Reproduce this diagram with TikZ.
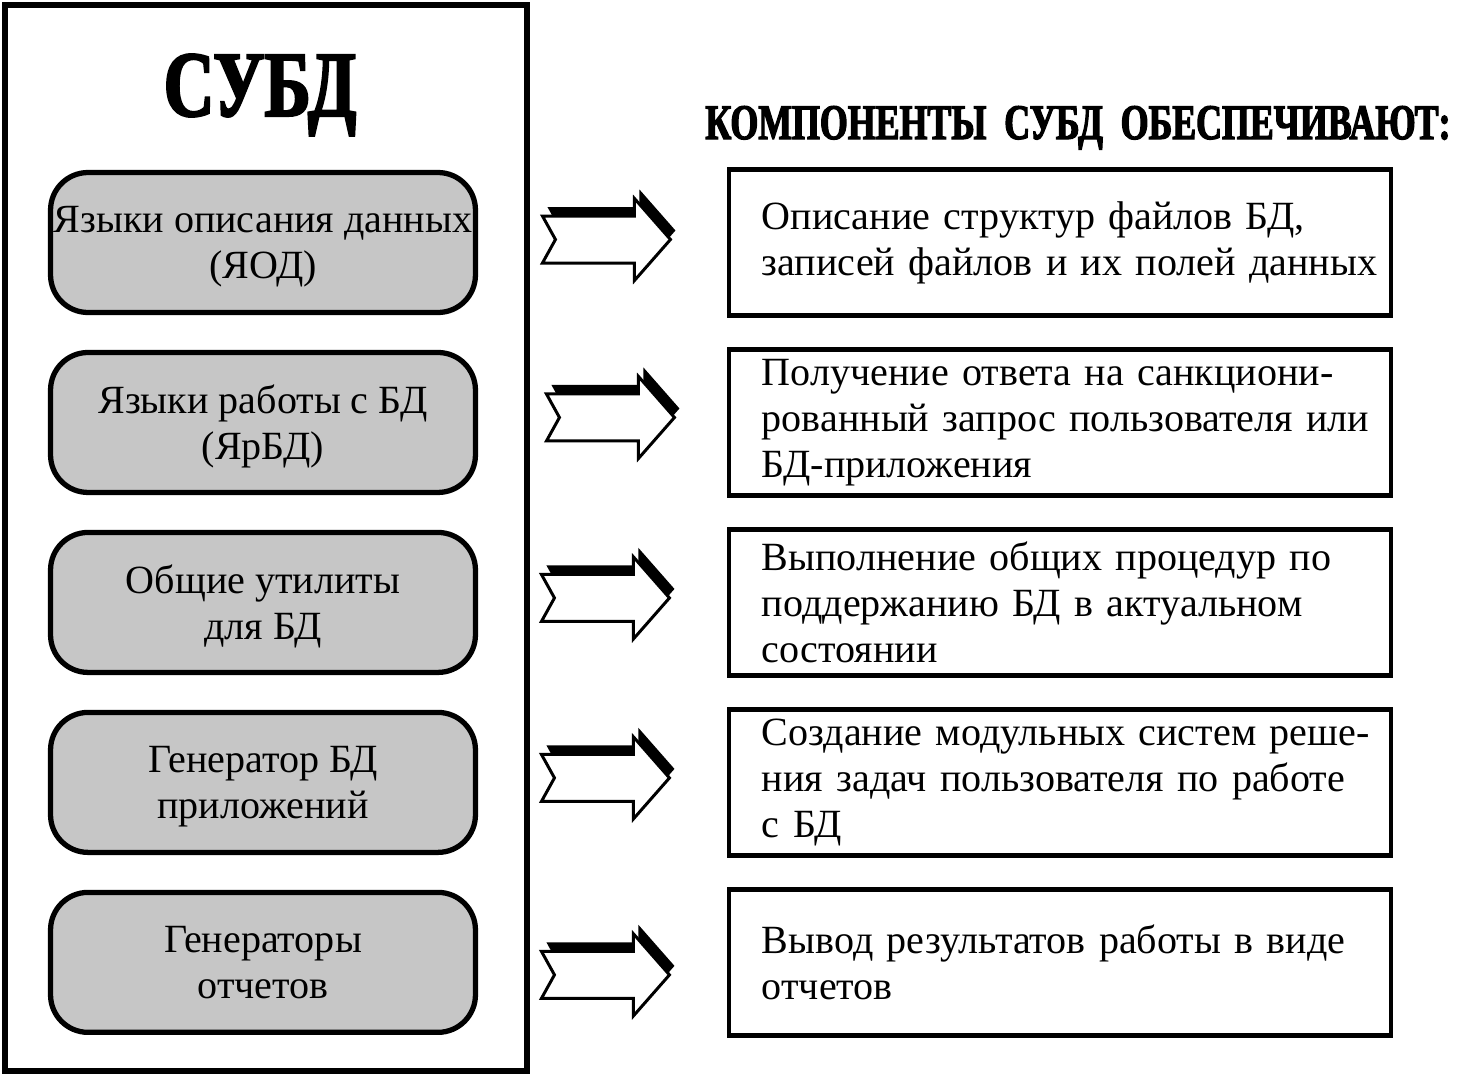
\documentclass[tikz,border=0pt]{standalone}
\usepackage{fontspec}
\setmainfont{Liberation Serif}
\newfontfamily\headfont{Liberation Serif Bold}[FakeStretch=0.75, FakeBold=2.5]
\newfontfamily\headerfont{Liberation Serif Bold}[FakeStretch=0.72, FakeBold=2.5]
\usetikzlibrary{positioning}

\definecolor{boxgray}{HTML}{C6C6C6}
\newcommand{\taskline}[1]{\mbox{#1}}

\begin{document}
\begin{tikzpicture}[
    x=0.02cm, y=-0.02cm,
    every node/.style={font=\fontsize{22.8}{26.2}\selectfont},
    compnode/.style={
        rectangle,
        rounded corners=0.75cm,
        draw=black,
        line width=3pt,
        fill=boxgray,
        minimum width=8.5cm,
        minimum height=2.8cm,
        align=center,
        text depth=0pt,
        inner sep=0pt,
        outer sep=0pt
    },
    tasknode/.style={
        rectangle,
        draw=black,
        line width=2.5pt,
        minimum width=13.24cm,
        minimum height=2.92cm,
        text width=11.92cm,
        align=left,
        inner sep=0pt,
        outer sep=0pt
    },
    shadowarrow/.style={fill=black},
    whitearrow/.style={fill=white, draw=black, line width=1.7pt, miter limit=20}
]
\def\arrowshape{(0,-23.5) -- (92,-23.5) -- (92,-41) -- (128,0) -- (92,41)
    -- (92,23.5) -- (0,23.5) -- (13,0) -- cycle}

\useasboundingbox (0,0) rectangle (1461,1076);

% outer frame
\node[draw=black, line width=3.6pt, minimum width=10.44cm, minimum height=21.32cm,
    inner sep=0pt, outer sep=0pt, anchor=north west] (dbms) at (5,5) {};

\node[font=\headfont\fontsize{53}{54}\selectfont] (title) at (260,95) {СУБД};
\node[font=\headerfont\fontsize{28.3}{29}\selectfont, anchor=base west, inner sep=0pt]
    (header) at (705,139) {КОМПОНЕНТЫ\ \ СУБД\ \ ОБЕСПЕЧИВАЮТ:};

% components
\node[compnode] (yod) at (263,242.5) {Языки описания данных\\(ЯОД)};
\node[compnode, below=0.8cm of yod] (yarbd) {Языки работы с БД\\(ЯрБД)};
\node[compnode, below=0.8cm of yarbd] (util) {Общие утилиты\\для БД};
\node[compnode, below=0.8cm of util] (gen) {Генератор БД\\приложений};
\node[compnode, below=0.8cm of gen] (rep) {Генераторы\\отчетов};

% what they provide
\node[tasknode, right=5.07cm of yod] (tdesc)
    {\taskline{Описание структур файлов БД,}\\\taskline{записей файлов и их полей данных}};
\node[tasknode, right=5.07cm of yarbd] (tquery)
    {\taskline{Получение ответа на санкциони-}\\\taskline{рованный запрос пользователя или}\\\taskline{БД-приложения}};
\node[tasknode, right=5.07cm of util] (tkeep)
    {\taskline{Выполнение общих процедур по}\\\taskline{поддержанию БД в актуальном}\\\taskline{состоянии}};
\node[tasknode, right=5.07cm of gen] (tmod)
    {\taskline{Создание модульных систем реше-}\\\taskline{ния задач пользователя по работе}\\\taskline{с БД}};
\node[tasknode, right=5.07cm of rep] (tout)
    {\taskline{Вывод результатов работы в виде}\\\taskline{отчетов}};

% block arrows
\foreach \src/\dx/\dy in {yod/67/-3, yarbd/71/-5, util/66/-4.5, gen/66/-4.5, rep/66/12.5} {
    \begin{scope}[shift={(\src.east)}, shift={(\dx,\dy)}]
        \fill[shadowarrow, shift={(5,-9)}] \arrowshape;
        \filldraw[whitearrow] \arrowshape;
    \end{scope}
}

\end{tikzpicture}
\end{document}
